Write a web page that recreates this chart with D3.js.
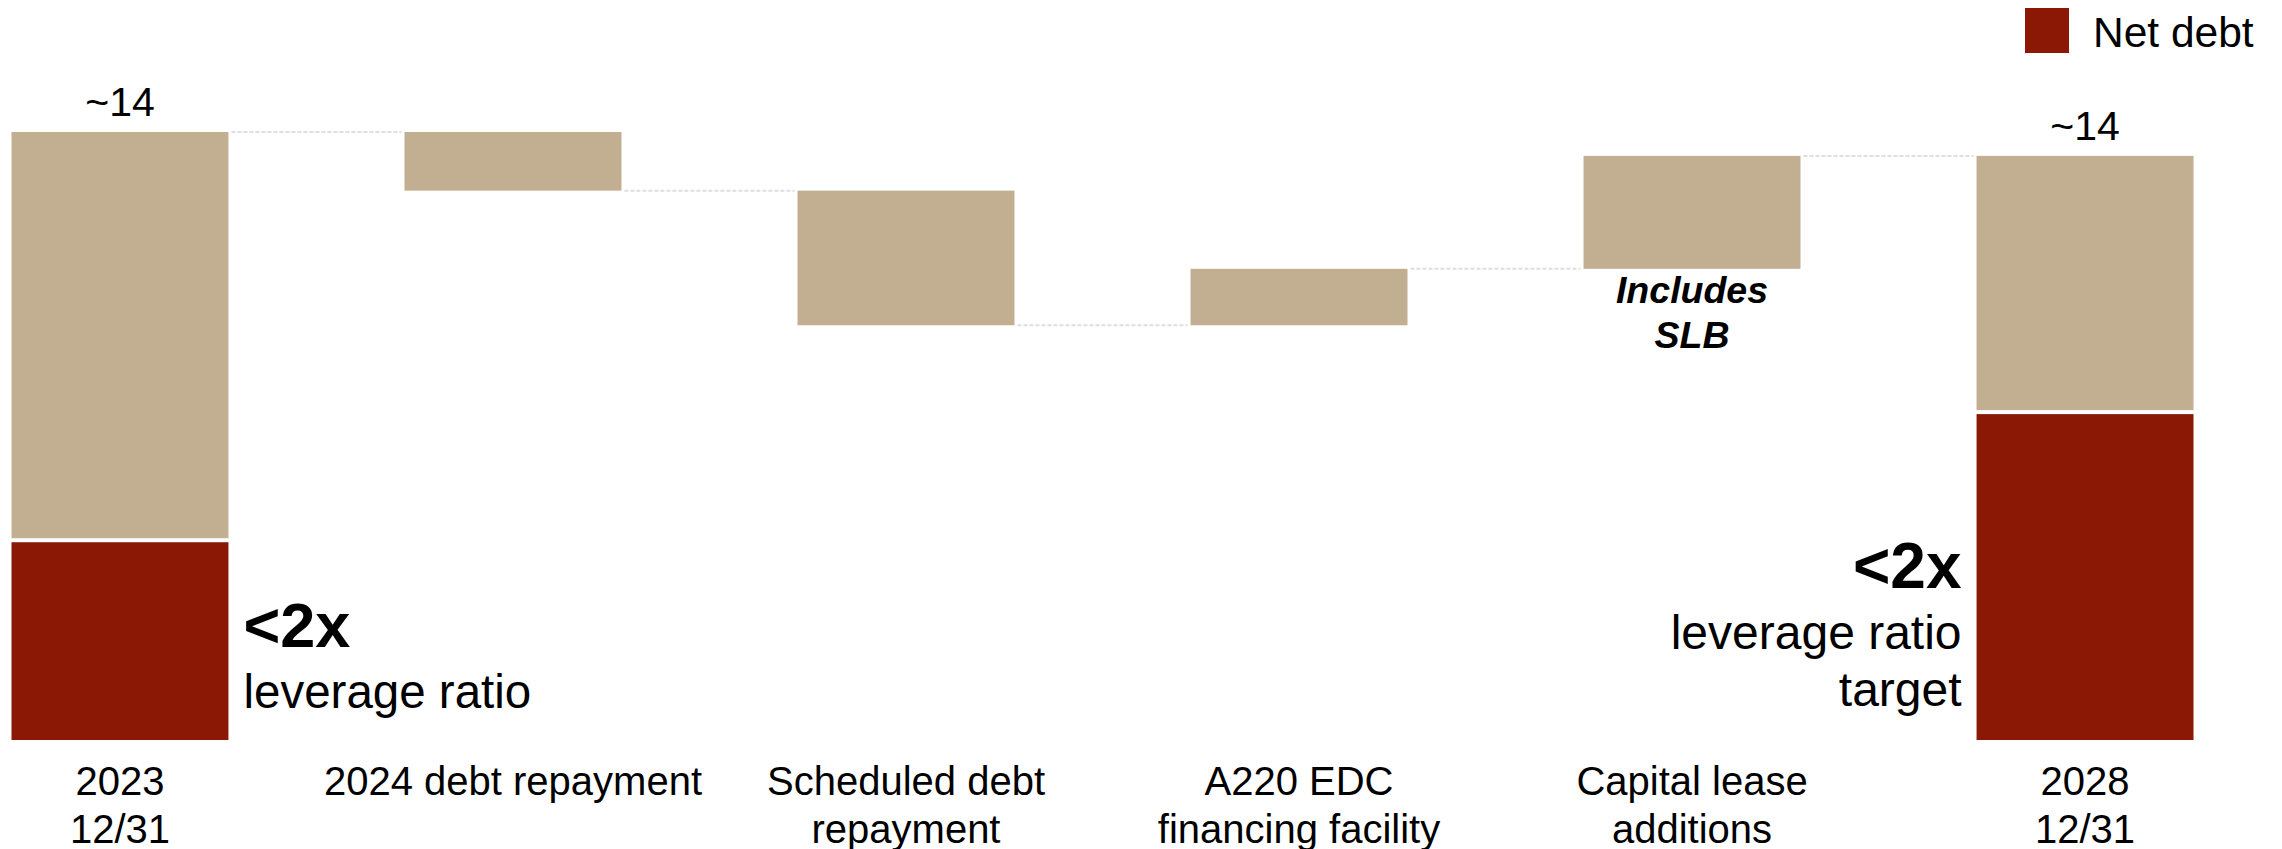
<!DOCTYPE html>
<html>
<head>
<meta charset="utf-8">
<script src="https://cdn.jsdelivr.net/npm/d3@7"></script>
<style>
    body { margin: 0; background: #fff; }
    svg { display: block; font-family: "Liberation Sans", Arial, sans-serif; }
</style>
</head>
<body>
<div id="chart"></div>
<script>
// Waterfall data
const categories = ["2023", "2024 debt repayment", "Scheduled debt repayment", "A220 EDC financing facility", "Capital lease additions", "2028"];
const labelLines = [["2023", "12/31"], ["2024 debt repayment"], ["Scheduled debt", "repayment"], ["A220 EDC", "financing facility"], ["Capital lease", "additions"], ["2028", "12/31"]];
const startTotal = 14.0;
const deltas = [-1.35, -3.1, 1.3, 2.6];
const netDebt = [4.6, 7.55];
const totalLabels = ["~14", "~14"];

const width = 2282;
const height = 849;
const tan = "#c2ae90";
const red = "#8a1804";

const svg = d3.select("#chart")
    .append("svg")
    .attr("width", width)
    .attr("height", height);

const x = d3.scaleBand()
    .domain(categories)
    .range([11.5, 2193.5])
    .paddingInner(0.448)
    .paddingOuter(0);

const y = d3.scaleLinear()
    .domain([0, 14])
    .range([740, 132]);

// build the bars: [start, end] for each step
const endTotal = startTotal + d3.sum(deltas);
const steps = [];
let running = startTotal;
steps.push({ cat: categories[0], from: 0, to: startTotal, total: true, net: netDebt[0], label: totalLabels[0] });
deltas.forEach((d, i) => {
    steps.push({ cat: categories[i + 1], from: running, to: running + d, total: false });
    running += d;
});
steps.push({ cat: categories[5], from: 0, to: endTotal, total: true, net: netDebt[1], label: totalLabels[1] });

// dashed connectors at the running total
const conn = svg.append("g");
for (let i = 0; i < steps.length - 1; i++) {
    conn.append("line")
        .attr("x1", x(steps[i].cat) + x.bandwidth() + 3)
        .attr("x2", x(steps[i + 1].cat) - 3)
        .attr("y1", y(steps[i].to))
        .attr("y2", y(steps[i].to))
        .attr("stroke", "#dedede")
        .attr("stroke-width", 2)
        .attr("stroke-dasharray", "4,2");
}

// gross (tan) parts
svg.append("g").selectAll("rect")
    .data(steps)
    .join("rect")
    .attr("x", d => x(d.cat))
    .attr("width", x.bandwidth())
    .attr("y", d => y(Math.max(d.from, d.to)))
    .attr("height", d => {
        if (d.total) return y(d.net) - y(d.to) - 2;
        return Math.abs(y(d.from) - y(d.to));
    })
    .attr("fill", tan);

// net debt (red) parts
const totals = steps.filter(s => s.total);
svg.append("g").selectAll("rect")
    .data(totals)
    .join("rect")
    .attr("x", d => x(d.cat))
    .attr("width", x.bandwidth())
    .attr("y", d => y(d.net) + 2)
    .attr("height", d => y(0) - y(d.net) - 2)
    .attr("fill", red);

// total labels
svg.append("g").selectAll("text")
    .data(totals)
    .join("text")
    .attr("x", d => x(d.cat) + x.bandwidth() / 2)
    .attr("y", d => y(d.to) - 16)
    .attr("text-anchor", "middle")
    .attr("font-size", 41)
    .attr("fill", "#000")
    .text(d => d.label);

// category labels
const cats = svg.append("g").selectAll("text")
    .data(categories)
    .join("text")
    .attr("x", d => x(d) + x.bandwidth() / 2)
    .attr("y", 795)
    .attr("text-anchor", "middle")
    .attr("font-size", 40)
    .attr("fill", "#000");
cats.selectAll("tspan")
    .data((d, i) => labelLines[i])
    .join("tspan")
    .attr("x", function () { return d3.select(this.parentNode).attr("x"); })
    .attr("dy", (d, i) => i === 0 ? 0 : 48)
    .text(d => d);

// annotations
const leftX = x(categories[0]) + x.bandwidth() + 15;
svg.append("text")
    .attr("x", leftX).attr("y", 647)
    .attr("font-size", 63).attr("font-weight", "bold")
    .text("<2x");
svg.append("text")
    .attr("x", leftX).attr("y", 708)
    .attr("font-size", 47.5)
    .text("leverage ratio");

const rightX = x(categories[5]) - 15;
svg.append("text")
    .attr("x", rightX).attr("y", 588)
    .attr("text-anchor", "end")
    .attr("font-size", 64).attr("font-weight", "bold")
    .text("<2x");
svg.append("text")
    .attr("x", rightX).attr("y", 649)
    .attr("text-anchor", "end")
    .attr("font-size", 48)
    .text("leverage ratio");
svg.append("text")
    .attr("x", rightX).attr("y", 706)
    .attr("text-anchor", "end")
    .attr("font-size", 48)
    .text("target");

// "Includes SLB" note under capital lease bar
const slbX = x(categories[4]) + x.bandwidth() / 2;
svg.append("text")
    .attr("x", slbX).attr("y", 303)
    .attr("text-anchor", "middle")
    .attr("font-size", 37.5).attr("font-weight", "bold").attr("font-style", "italic")
    .text("Includes");
svg.append("text")
    .attr("x", slbX).attr("y", 348)
    .attr("text-anchor", "middle")
    .attr("font-size", 37.5).attr("font-weight", "bold").attr("font-style", "italic")
    .text("SLB");

// legend
const legend = svg.append("g");
legend.append("rect")
    .attr("x", 2025).attr("y", 8)
    .attr("width", 44).attr("height", 45)
    .attr("fill", red);
legend.append("text")
    .attr("x", 2093).attr("y", 47)
    .attr("font-size", 42.5)
    .text("Net debt");
</script>
</body>
</html>
